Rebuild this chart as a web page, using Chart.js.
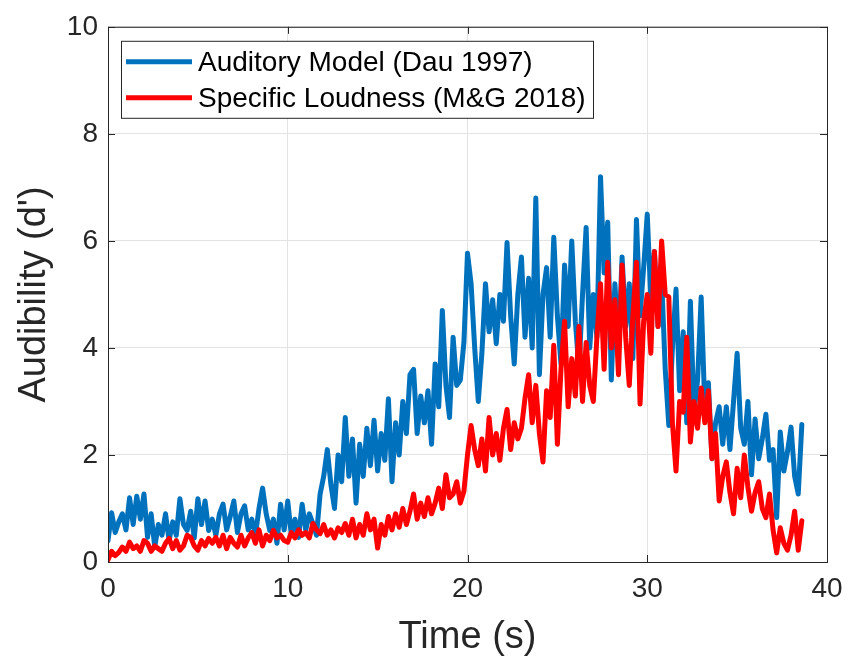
<!DOCTYPE html>
<html>
<head>
<meta charset="utf-8">
<script src="https://cdn.jsdelivr.net/npm/chart.js@4/dist/chart.umd.min.js"></script>
<style>html,body{margin:0;padding:0;background:#fff}</style>
</head>
<body>
<canvas id="c" width="863" height="663"></canvas>
<script>
// sampling interval of both curves (s)
const tStep = 0.2;

const seriesNames = ['Auditory Model (Dau 1997)', 'Specific Loudness (M&G 2018)'];

// d' values, one every 0.2 s from 0 to 38.6 s
const auditory = [
  0.4, 0.92, 0.55, 0.75, 0.9,   0.6, 1.2, 0.7, 1.23, 0.8,
  1.27, 0.46, 0.9, 0.28, 0.7,   0.5, 0.9, 0.4, 0.75, 0.5,
  1.18, 0.7, 0.59, 0.95, 0.45,  1.18, 0.7, 1.14, 0.59, 0.8,
  0.5, 0.9, 1.08, 0.6, 0.85,    1.14, 0.55, 0.9, 1.05, 0.6,
  0.8, 0.5, 1.0, 1.38, 0.9,     0.59, 0.8, 0.35, 1.08, 0.6,
  1.14, 0.5, 0.8, 0.46, 1.08,   0.6, 0.9, 0.72, 0.5, 1.27,
  1.6, 2.1, 1.45, 1.0, 2.0,     1.5, 2.7, 1.6, 2.3, 1.1,
  2.2, 1.6, 2.5, 1.8, 2.65,     1.7, 2.4, 1.9, 3.05, 1.5,
  2.6, 2.0, 3.0, 2.4, 3.5,      3.6, 2.4, 3.1, 2.6, 3.2,
  2.2, 3.7, 2.9, 4.7, 3.3,      2.7, 4.2, 3.3, 3.4, 4.1,
  5.77, 5.2, 4.0, 3.0, 3.9,     5.2, 4.3, 4.9, 4.08, 5.0,
  4.5, 5.97, 4.6, 3.7, 5.0,     5.7, 4.2, 5.3, 4.0, 6.8,
  3.5, 5.0, 5.5, 4.2, 6.07,     4.6, 3.7, 5.55, 4.4, 6.0,
  4.5, 3.6, 5.0, 6.25, 4.0,     5.0, 4.2, 7.2, 5.4, 6.35,
  3.4, 5.2, 4.0, 5.7, 4.4,      5.2, 3.8, 6.4, 4.6, 5.5,
  6.5, 4.9, 5.8, 4.4, 5.3,      3.6, 2.55, 4.0, 5.1, 3.2,
  4.3, 2.6, 4.87, 2.8, 3.4,     4.95, 2.9, 3.35, 1.93, 2.6,
  2.9, 2.2, 2.9, 2.1, 3.0,      3.9, 2.5, 2.2, 3.0, 1.63,
  2.67, 1.93, 2.3, 2.76, 1.9,   2.1, 0.83, 2.43, 1.7, 2.06,
  2.52, 1.6, 1.27, 2.57
];

const loudness = [
  0.04, 0.2, 0.12, 0.18, 0.28,  0.2, 0.37, 0.25, 0.3, 0.2,
  0.4, 0.35, 0.2, 0.3, 0.25,    0.2, 0.35, 0.44, 0.25, 0.4,
  0.22, 0.3, 0.5, 0.46, 0.3,    0.22, 0.4, 0.3, 0.44, 0.35,
  0.46, 0.3, 0.5, 0.25, 0.46,   0.35, 0.28, 0.5, 0.3, 0.45,
  0.55, 0.35, 0.6, 0.3, 0.5,    0.4, 0.59, 0.45, 0.5, 0.4,
  0.37, 0.55, 0.45, 0.6, 0.5,   0.55, 0.45, 0.72, 0.6, 0.53,
  0.7, 0.5, 0.6, 0.45, 0.64,    0.55, 0.72, 0.5, 0.8, 0.45,
  0.7, 0.5, 0.9, 0.6, 0.8,      0.26, 0.7, 0.5, 0.85, 0.6,
  0.9, 0.65, 1.0, 0.7, 0.95,    1.27, 0.8, 1.1, 0.85, 1.2,
  0.9, 1.1, 1.38, 1.0, 1.63,    1.2, 1.27, 1.5, 1.1, 1.32,
  2.0, 2.55, 2.1, 1.8, 2.3,     1.7, 2.7, 2.0, 2.4, 1.9,
  2.5, 2.85, 2.1, 2.6, 2.3,     2.5, 3.06, 3.5, 2.6, 3.3,
  2.4, 1.87, 3.2, 2.7, 4.05,    2.2, 3.6, 4.5, 2.9, 3.8,
  3.1, 4.4, 3.0, 4.1, 3.3,      3.0, 4.2, 5.2, 3.6, 5.6,
  4.0, 4.9, 3.5, 5.55, 4.2,     3.3, 4.6, 5.6, 2.95, 4.5,
  5.0, 3.9, 5.8, 4.4, 6.0,      5.0, 4.95, 2.6, 1.7, 3.0,
  2.8, 4.2, 2.24, 3.0, 2.5,     3.25, 2.6, 3.2, 1.93, 2.4,
  1.14, 1.6, 1.87, 1.3, 0.9,    1.75, 1.2, 2.0, 1.4, 0.95,
  1.3, 1.5, 1.0, 0.83, 1.27,    0.6, 0.17, 0.64, 0.35, 0.22,
  0.5, 0.95, 0.22, 0.77
];

const xTicks = [0, 10, 20, 30, 40];
const yTicks = [0, 2, 4, 6, 8, 10];

const BLUE = '#0072BD';
const RED = '#FF0000';
const INK = '#262626';
const FONT = "'Liberation Sans', Arial, sans-serif";

function toPoints(arr){
  return arr.map((v, i) => ({ x: Math.round(i * tStep * 10) / 10, y: v }));
}

// MATLAB style box with inward ticks, plus the boxed legend in the top left
const boxAndLegend = {
  id: 'boxAndLegend',
  afterDraw(chart){
    const { ctx, chartArea: a, scales: { x, y } } = chart;
    ctx.save();
    ctx.strokeStyle = INK;
    ctx.lineWidth = 1;
    ctx.strokeRect(a.left + 0.5, a.top + 0.5, a.right - a.left, a.bottom - a.top);
    const tl = 7;
    ctx.beginPath();
    xTicks.forEach(t => {
      const px = Math.round(x.getPixelForValue(t)) + 0.5;
      ctx.moveTo(px, a.bottom); ctx.lineTo(px, a.bottom - tl);
      ctx.moveTo(px, a.top); ctx.lineTo(px, a.top + tl);
    });
    yTicks.forEach(t => {
      const py = Math.round(y.getPixelForValue(t)) + 0.5;
      ctx.moveTo(a.left, py); ctx.lineTo(a.left + tl, py);
      ctx.moveTo(a.right, py); ctx.lineTo(a.right - tl, py);
    });
    ctx.stroke();

    // legend
    const lx = a.left + 13, ly = a.top + 14, lw = 472, lh = 77;
    ctx.fillStyle = '#fff';
    ctx.fillRect(lx, ly, lw, lh);
    ctx.strokeStyle = INK;
    ctx.strokeRect(lx + 0.5, ly + 0.5, lw, lh);
    const colors = [BLUE, RED];
    ctx.font = '28px ' + FONT;
    ctx.textBaseline = 'middle';
    seriesNames.forEach((name, i) => {
      const yy = ly + 21 + i * 36;
      ctx.strokeStyle = colors[i];
      ctx.lineWidth = 5;
      ctx.beginPath();
      ctx.moveTo(lx + 5, yy); ctx.lineTo(lx + 71, yy);
      ctx.stroke();
      ctx.fillStyle = '#000';
      ctx.fillText(name, lx + 77, yy + 1);
    });
    ctx.restore();
  }
};

new Chart(document.getElementById('c'), {
  type: 'line',
  data: {
    datasets: [
      { label: seriesNames[0], data: toPoints(auditory), borderColor: BLUE, order: 2 },
      { label: seriesNames[1], data: toPoints(loudness), borderColor: RED, order: 1 }
    ]
  },
  options: {
    responsive: false,
    animation: false,
    devicePixelRatio: 1,
    layout: { padding: { top: 16, right: 36, left: 0, bottom: 0 } },
    elements: {
      point: { radius: 0 },
      line: { borderWidth: 5, tension: 0, borderJoinStyle: 'round', borderCapStyle: 'round' }
    },
    plugins: { legend: { display: false }, tooltip: { enabled: false } },
    scales: {
      x: {
        type: 'linear', min: 0, max: 40,
        afterFit: s => { s.height = 101; },
        ticks: { stepSize: 10, color: INK, font: { family: FONT, size: 28 }, padding: 10, maxRotation: 0 },
        grid: { color: '#e3e3e3', drawTicks: false },
        border: { display: false },
        title: { display: true, text: 'Time (s)', color: INK, font: { family: FONT, size: 38 }, padding: { top: 0, bottom: 3 } }
      },
      y: {
        min: 0, max: 10,
        afterFit: s => { s.width = 108; },
        ticks: { stepSize: 2, color: INK, font: { family: FONT, size: 28 }, padding: 10 },
        grid: { color: '#e3e3e3', drawTicks: false },
        border: { display: false },
        title: { display: true, text: "Audibility (d')", color: INK, font: { family: FONT, size: 38 }, padding: { top: 12, bottom: 0 } }
      }
    }
  },
  plugins: [boxAndLegend]
});
</script>
</body>
</html>
